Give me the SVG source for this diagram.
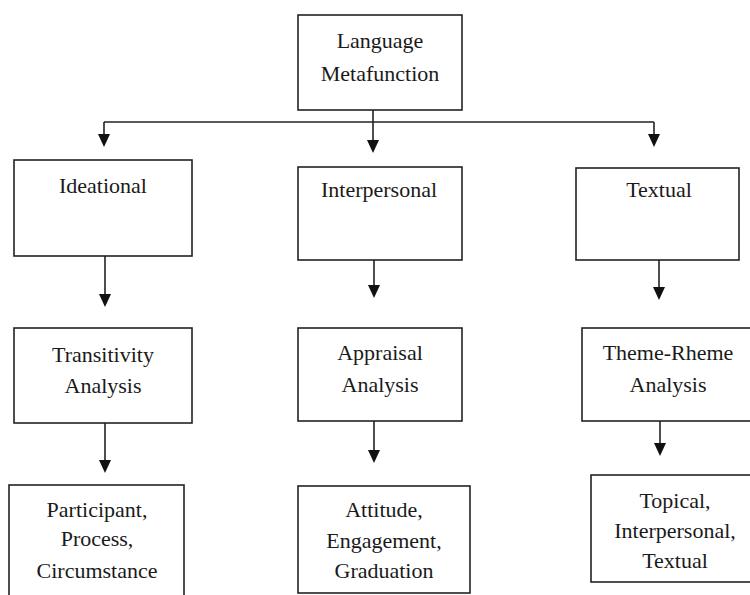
<svg xmlns="http://www.w3.org/2000/svg" width="750" height="595" viewBox="0 0 750 595">
<defs>
<style>
.box{fill:#fff;stroke:#222;stroke-width:1.6}
.t{font-family:"Liberation Serif","Times New Roman",serif;font-size:22px;fill:#1a1a1a;text-anchor:middle}
.c{fill:none;stroke:#222;stroke-width:1.6}
.h{fill:#111}
</style>
</defs>
<rect width="750" height="595" fill="#fff"/>
<g id="connectors">
<path class="c" d="M104,122 L654,122"/>
<path class="c" d="M104,122 L104,134"/>
<path class="c" d="M654,122 L654,134"/>
<path class="c" d="M373,110 L373,140"/>
<path class="c" d="M105,256 L105,294"/>
<path class="c" d="M374,260 L374,285"/>
<path class="c" d="M659,260 L659,287"/>
<path class="c" d="M105,423 L105,460"/>
<path class="c" d="M374,421 L374,450"/>
<path class="c" d="M660,421 L660,443"/>
<path class="h" d="M98,134 L110,134 L104,147 Z"/>
<path class="h" d="M648,134 L660,134 L654,147 Z"/>
<path class="h" d="M367,140 L379,140 L373,153 Z"/>
<path class="h" d="M99,294 L111,294 L105,307 Z"/>
<path class="h" d="M368,285 L380,285 L374,298 Z"/>
<path class="h" d="M653,287 L665,287 L659,300 Z"/>
<path class="h" d="M99,460 L111,460 L105,473 Z"/>
<path class="h" d="M368,450 L380,450 L374,463 Z"/>
<path class="h" d="M654,443 L666,443 L660,456 Z"/>
</g>
<g id="language-metafunction">
<rect class="box" x="298" y="15" width="164" height="95"/>
<text class="t" x="380" y="48">Language</text>
<text class="t" x="380" y="81">Metafunction</text>
</g>
<g id="ideational">
<rect class="box" x="14" y="160" width="178" height="96"/>
<text class="t" x="103" y="193">Ideational</text>
</g>
<g id="interpersonal">
<rect class="box" x="298" y="167" width="164" height="93"/>
<text class="t" x="379" y="197">Interpersonal</text>
</g>
<g id="textual">
<rect class="box" x="576" y="168" width="163" height="92"/>
<text class="t" x="659" y="197">Textual</text>
</g>
<g id="transitivity-analysis">
<rect class="box" x="14" y="328" width="178" height="95"/>
<text class="t" x="103" y="362">Transitivity</text>
<text class="t" x="103" y="393">Analysis</text>
</g>
<g id="appraisal-analysis">
<rect class="box" x="298" y="328" width="164" height="93"/>
<text class="t" x="380" y="360">Appraisal</text>
<text class="t" x="380" y="392">Analysis</text>
</g>
<g id="theme-rheme-analysis">
<rect class="box" x="582" y="328" width="180" height="93"/>
<text class="t" x="668" y="360">Theme-Rheme</text>
<text class="t" x="668" y="392">Analysis</text>
</g>
<g id="participant-process-circumstance">
<rect class="box" x="9" y="485" width="175" height="120"/>
<text class="t" x="97" y="517">Participant,</text>
<text class="t" x="97" y="546">Process,</text>
<text class="t" x="97" y="578">Circumstance</text>
</g>
<g id="attitude-engagement-graduation">
<rect class="box" x="298" y="486" width="172" height="107"/>
<text class="t" x="384" y="517">Attitude,</text>
<text class="t" x="384" y="548">Engagement,</text>
<text class="t" x="384" y="578">Graduation</text>
</g>
<g id="topical-interpersonal-textual">
<rect class="box" x="591" y="475" width="180" height="107"/>
<text class="t" x="675" y="508">Topical,</text>
<text class="t" x="675" y="538">Interpersonal,</text>
<text class="t" x="675" y="568">Textual</text>
</g>
</svg>
